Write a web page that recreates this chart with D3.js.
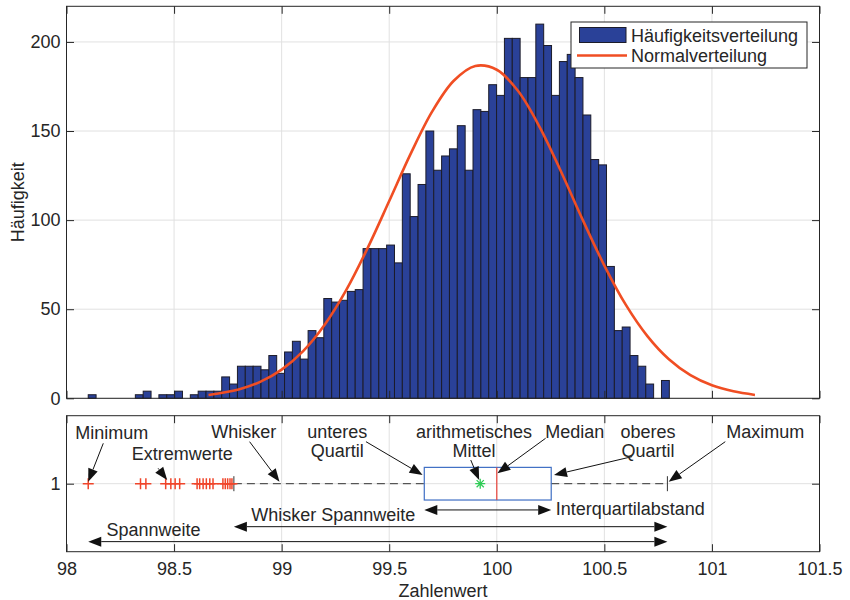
<!DOCTYPE html>
<html>
<head>
<meta charset="utf-8">
<script src="https://cdn.jsdelivr.net/npm/d3@7/dist/d3.min.js"></script>
<style>
  body { margin: 0; background: #fff; }
  text { font-family: "Liberation Sans", Arial, Helvetica, sans-serif; fill: #262626; }
</style>
</head>
<body>
<svg id="chart" width="850" height="600"></svg>
<script>
// Histogram: bins start at binStart, each binWidth wide
const binStart = 98.101;
const binWidth = 0.0365;
const counts = [
  2, 0, 0, 0, 0, 0, 2, 4, 0, 2,
  2, 4, 0, 2, 4, 4, 4, 12, 8, 18,
  18, 18, 16, 24, 14, 26, 32, 22, 38, 34,
  56, 54, 55, 60, 61, 84, 84, 84, 86, 76,
  126, 102, 120, 150, 128, 136, 140, 153, 128, 162,
  161, 176, 170, 202, 202, 180, 180, 210, 198, 170,
  189, 193, 180, 159, 134, 131, 74, 38, 40, 24,
  18, 8, 0, 10
];

// Normal curve
const normX = [98.66, 98.8, 98.9, 99.0, 99.1, 99.2, 99.3, 99.4, 99.5, 99.6, 99.7, 99.8, 99.9,
               100.0, 100.1, 100.2, 100.3, 100.4, 100.5, 100.6, 100.7, 100.8, 100.9, 101.0, 101.1, 101.2];
const normY = [1.9, 5.0, 9.2, 16.1, 26.5, 41.3, 60.7, 84.4, 110.7, 137.3, 161.0, 178.2, 186.5,
               184.4, 172.3, 152.1, 126.9, 100.0, 74.5, 52.4, 34.9, 21.9, 13.0, 7.3, 3.9, 1.9];

const xTicks = [98, 98.5, 99, 99.5, 100, 100.5, 101, 101.5];
const yTicks = [0, 50, 100, 150, 200];

// Boxplot
const minimum = 98.101, whiskerLow = 98.778, q1 = 99.663, median = 100.0, q3 = 100.253, maximum = 100.793;
const mean = 99.923;
const outliers = [98.101, 98.344, 98.369, 98.461, 98.485, 98.505, 98.526, 98.607, 98.619, 98.635,
                  98.650, 98.666, 98.681, 98.727, 98.738, 98.749, 98.760, 98.769];

// annotations (value units of the lower panel)
const labels = [
  { lines: ['Minimum'], x: 98.21, y: 1.33, anchor: 'middle' },
  { lines: ['Extremwerte'], x: 98.538, y: 1.174, anchor: 'middle' },
  { lines: ['Whisker'], x: 98.824, y: 1.334, anchor: 'middle' },
  { lines: ['unteres', 'Quartil'], x: 99.259, y: 1.334, anchor: 'middle' },
  { lines: ['arithmetisches', 'Mittel'], x: 99.894, y: 1.334, anchor: 'middle' },
  { lines: ['Median'], x: 100.362, y: 1.334, anchor: 'middle' },
  { lines: ['oberes', 'Quartil'], x: 100.703, y: 1.334, anchor: 'middle' },
  { lines: ['Maximum'], x: 101.248, y: 1.334, anchor: 'middle' },
  { lines: ['Interquartilabstand'], x: 100.274, y: 0.770, anchor: 'start' },
  { lines: ['Whisker Spannweite'], x: 98.859, y: 0.724, anchor: 'start' },
  { lines: ['Spannweite'], x: 98.186, y: 0.612, anchor: 'start' }
];
const pointers = [
  { from: [98.171, 1.297], to: [98.101, 1.015] },
  { from: [98.426, 1.113], to: [98.468, 1.027] },
  { from: [98.851, 1.309], to: [98.990, 1.015] },
  { from: [99.392, 1.309], to: [99.655, 1.064] },
  { from: [99.879, 1.174], to: [99.918, 1.027] },
  { from: [100.227, 1.334], to: [100.003, 1.076] },
  { from: [100.629, 1.199], to: [100.266, 1.064] },
  { from: [101.062, 1.309], to: [100.799, 1.015] }
];
const spans = [
  { from: q1, to: q3, y: 0.807 },
  { from: whiskerLow, to: maximum, y: 0.684 },
  { from: minimum, to: maximum, y: 0.574 }
];

const svg = d3.select('#chart');
const left = 66.5, right = 819.5;
const top1 = 6.3, bot1 = 398.3;
const top2 = 415.7, bot2 = 551.7;
const tick = 7.5;
const axisColor = '#262626';
const gridColor = '#e1e1e1';
const barColor = '#2a4198';
const curveColor = '#f04e23';

const x = d3.scaleLinear().domain([98, 101.5]).range([left, right]);
const yTop = d3.scaleLinear().domain([0, 220]).range([bot1, top1]);
const yBot = d3.scaleLinear().domain([0.5, 1.5]).range([bot2, top2]);

function grid(top, bottom, yScale, yVals) {
  const g = svg.append('g');
  g.append('g').selectAll('line').data(xTicks).enter().append('line')
    .attr('x1', d => x(d)).attr('x2', d => x(d))
    .attr('y1', top).attr('y2', bottom)
    .attr('stroke', gridColor).attr('stroke-width', 1);
  g.append('g').selectAll('line').data(yVals).enter().append('line')
    .attr('x1', left).attr('x2', right)
    .attr('y1', d => yScale(d)).attr('y2', d => yScale(d))
    .attr('stroke', gridColor).attr('stroke-width', 1);
}

function axes(top, bottom, yScale, yVals, showX) {
  const g = svg.append('g');
  g.append('g').attr('transform', `translate(${left},0)`)
    .call(d3.axisLeft(yScale).tickValues(yVals).tickSize(-tick).tickPadding(6).tickFormat(d3.format('')));
  g.append('g').attr('transform', `translate(${right},0)`)
    .call(d3.axisRight(yScale).tickValues(yVals).tickSize(-tick).tickFormat(''));
  g.append('g').attr('transform', `translate(0,${bottom})`)
    .call(d3.axisBottom(x).tickValues(xTicks).tickSize(-tick).tickPadding(10.5)
      .tickFormat(showX ? d3.format('') : ''));
  g.append('g').attr('transform', `translate(0,${top})`)
    .call(d3.axisTop(x).tickValues(xTicks).tickSize(-tick).tickFormat(''));
  g.selectAll('.domain').remove();
  g.selectAll('.tick line').attr('stroke', axisColor);
  g.selectAll('.tick text').attr('font-size', 18).attr('fill', axisColor)
    .style('font-family', '"Liberation Sans", Arial, sans-serif');
  g.append('rect').attr('x', left).attr('y', top)
    .attr('width', right - left).attr('height', bottom - top)
    .attr('fill', 'none').attr('stroke', axisColor).attr('stroke-width', 1);
}

// ---- upper panel: histogram ----
grid(top1, bot1, yTop, yTicks);

svg.append('g').selectAll('rect').data(counts).enter().append('rect')
  .attr('x', (d, i) => x(binStart + i * binWidth))
  .attr('width', (d, i) => x(binStart + (i + 1) * binWidth) - x(binStart + i * binWidth))
  .attr('y', d => yTop(d))
  .attr('height', d => yTop(0) - yTop(d))
  .attr('fill', barColor)
  .attr('stroke', '#1c1c2a')
  .attr('stroke-width', 1)
  .attr('display', d => d > 0 ? null : 'none');

const normLine = d3.line()
  .x((d, i) => x(normX[i]))
  .y(d => yTop(d))
  .curve(d3.curveCatmullRom);
svg.append('path').datum(normY)
  .attr('d', normLine)
  .attr('fill', 'none')
  .attr('stroke', curveColor)
  .attr('stroke-width', 2.6);

axes(top1, bot1, yTop, yTicks, false);

svg.append('text')
  .attr('transform', `translate(24,${(top1 + bot1) / 2}) rotate(-90)`)
  .attr('text-anchor', 'middle')
  .attr('font-size', 18)
  .text('Häufigkeit');

// legend
const lg = svg.append('g');
lg.append('rect').attr('x', 571).attr('y', 22).attr('width', 236).attr('height', 46)
  .attr('fill', '#fff').attr('stroke', axisColor).attr('stroke-width', 1);
lg.append('rect').attr('x', 579.5).attr('y', 27.5).attr('width', 46.5).attr('height', 15)
  .attr('fill', barColor).attr('stroke', '#1c1c2a').attr('stroke-width', 1);
lg.append('line').attr('x1', 577).attr('x2', 627).attr('y1', 55.5).attr('y2', 55.5)
  .attr('stroke', curveColor).attr('stroke-width', 2.6);
lg.append('text').attr('x', 631).attr('y', 42.3).attr('font-size', 18).attr('fill', '#111').text('Häufigkeitsverteilung');
lg.append('text').attr('x', 631).attr('y', 61.7).attr('font-size', 18).attr('fill', '#111').text('Normalverteilung');

// ---- lower panel: boxplot ----
grid(top2, bot2, yBot, [1]);

const bp = svg.append('g');
const yc = yBot(1);
const boxHalf = 0.12;
// whiskers
bp.append('line').attr('x1', x(whiskerLow)).attr('x2', x(q1)).attr('y1', yc).attr('y2', yc)
  .attr('stroke', '#333').attr('stroke-width', 1).attr('stroke-dasharray', '8,5');
bp.append('line').attr('x1', x(q3)).attr('x2', x(maximum)).attr('y1', yc).attr('y2', yc)
  .attr('stroke', '#333').attr('stroke-width', 1).attr('stroke-dasharray', '8,5');
[whiskerLow, maximum].forEach(v => {
  bp.append('line').attr('x1', x(v)).attr('x2', x(v))
    .attr('y1', yc - 7.5).attr('y2', yc + 7.5)
    .attr('stroke', '#333').attr('stroke-width', 1);
});
// box
bp.append('rect').attr('x', x(q1)).attr('y', yBot(1 + boxHalf))
  .attr('width', x(q3) - x(q1)).attr('height', yBot(1 - boxHalf) - yBot(1 + boxHalf))
  .attr('fill', 'none').attr('stroke', '#3f6fc4').attr('stroke-width', 1.2);
bp.append('line').attr('x1', x(median)).attr('x2', x(median))
  .attr('y1', yBot(1 + boxHalf)).attr('y2', yBot(1 - boxHalf))
  .attr('stroke', '#e8433a').attr('stroke-width', 1.2);
// outliers
bp.append('g').selectAll('path').data(outliers).enter().append('path')
  .attr('d', d => `M${x(d) - 5.5},${yc}H${x(d) + 5.5}M${x(d)},${yc - 5.5}V${yc + 5.5}`)
  .attr('stroke', '#f0452a').attr('stroke-width', 1.5).attr('fill', 'none');
// mean asterisk
const mx = x(mean), r = 5;
bp.append('path')
  .attr('d', `M${mx - r},${yc}H${mx + r}M${mx},${yc - r}V${yc + r}` +
             `M${mx - r * 0.72},${yc - r * 0.72}L${mx + r * 0.72},${yc + r * 0.72}` +
             `M${mx - r * 0.72},${yc + r * 0.72}L${mx + r * 0.72},${yc - r * 0.72}`)
  .attr('stroke', '#2ecc55').attr('stroke-width', 1.3);

axes(top2, bot2, yBot, [1], true);

svg.append('text')
  .attr('x', (left + right) / 2).attr('y', 597)
  .attr('text-anchor', 'middle').attr('font-size', 18)
  .text('Zahlenwert');

// ---- annotations ----
const an = svg.append('g');
function head(x1, y1, x2, y2) {
  const len = 13, hw = 5;
  const L = Math.hypot(x2 - x1, y2 - y1);
  const ux = (x2 - x1) / L, uy = (y2 - y1) / L;
  const bx = x2 - ux * len, by = y2 - uy * len;
  an.append('path')
    .attr('d', `M${x2},${y2}L${bx - uy * hw},${by + ux * hw}L${bx + uy * hw},${by - ux * hw}Z`)
    .attr('fill', '#111');
  return [bx, by];
}
function arrow(x1, y1, x2, y2, both) {
  const [ex, ey] = head(x1, y1, x2, y2);
  let sx = x1, sy = y1;
  if (both) [sx, sy] = head(x2, y2, x1, y1);
  an.append('line').attr('x1', sx).attr('y1', sy).attr('x2', ex).attr('y2', ey)
    .attr('stroke', '#111').attr('stroke-width', 1);
}
pointers.forEach(p => arrow(x(p.from[0]), yBot(p.from[1]), x(p.to[0]), yBot(p.to[1]), false));
spans.forEach(s => arrow(x(s.from), yBot(s.y), x(s.to), yBot(s.y), true));

labels.forEach(l => {
  const t = an.append('text')
    .attr('x', x(l.x)).attr('y', yBot(l.y))
    .attr('text-anchor', l.anchor)
    .attr('font-size', 18).attr('fill', '#1a1a1a');
  l.lines.forEach((s, i) => {
    t.append('tspan').attr('x', x(l.x)).attr('dy', i === 0 ? 0 : 18.4).text(s);
  });
});
</script>
</body>
</html>
